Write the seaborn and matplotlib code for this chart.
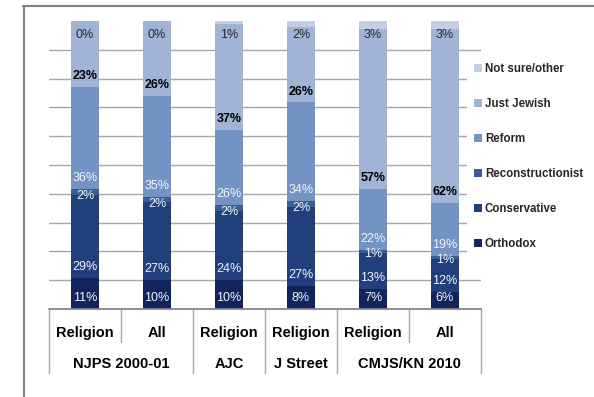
import numpy as np
import pandas as pd
import seaborn as sns
import matplotlib.pyplot as plt
from matplotlib.patches import Patch
from matplotlib.lines import Line2D

# ---- data ----
surveys = ["NJPS 2000-01", "NJPS 2000-01", "AJC", "J Street", "CMJS/KN 2010", "CMJS/KN 2010"]
subsets = ["Religion", "All", "Religion", "Religion", "Religion", "All"]
groups = ["NJPS 2000-01", "AJC", "J Street", "CMJS/KN 2010"]
denoms = ["Orthodox", "Conservative", "Reconstructionist", "Reform", "Just Jewish", "Not sure/other"]
orthodox = [11, 10, 10, 8, 7, 6]
conservative = [29, 27, 24, 27, 13, 12]
reconstructionist = [2, 2, 2, 2, 1, 1]
reform = [36, 35, 26, 34, 22, 19]
just_jewish = [23, 26, 37, 26, 57, 62]
not_sure = [0, 0, 1, 2, 3, 3]
colors = ["#12245e", "#203f7c", "#375e95", "#7393c5", "#a1b4d6", "#c3cde4"]

series = [orthodox, conservative, reconstructionist, reform, just_jewish, not_sure]
ids = [f"{s}|{b}|{i}" for i, (s, b) in enumerate(zip(surveys, subsets))]

vals = np.array(series, dtype=float)           # (6 series, 6 bars)
shares = vals / vals.sum(axis=0, keepdims=True)  # 100% stacked
cum = np.cumsum(shares, axis=0)

rows = []
for k, d in enumerate(denoms):
    for i, bid in enumerate(ids):
        rows.append(dict(bar=bid, denom=d, value=series[k][i], top=cum[k, i],
                         base=cum[k, i] - shares[k, i]))
df = pd.DataFrame(rows)

sns.set_theme(style="white")
plt.rcParams["font.family"] = ["Liberation Sans", "DejaVu Sans"]

W, H = 594, 397
fig = plt.figure(figsize=(W / 100, H / 100), dpi=100)
ax = fig.add_axes([49 / W, (H - 309) / H, (481 - 49) / W, 288 / H])

for k in reversed(range(len(denoms))):
    sub = df[df["denom"] == denoms[k]]
    sns.barplot(data=sub, x="bar", y="top", order=ids, color=colors[k], width=0.4,
                saturation=1, errorbar=None, linewidth=0, ax=ax, zorder=3)

ax.set_xlim(-0.5, 5.5)
ax.set_ylim(0, 1)
ax.set_yticks(np.arange(1, 10) / 10)
ax.set_yticklabels([])
ax.set_xticks([])
ax.set_xlabel("")
ax.set_ylabel("")
ax.grid(axis="y", color="#a6a6a6", lw=1)
ax.set_axisbelow(True)
for s in ax.spines.values():
    s.set_visible(False)
ax.tick_params(left=False, bottom=False)
ax.axhline(0, color="#868686", lw=1.3, clip_on=False, zorder=4)

# ---- data labels ----
for _, r in df.iterrows():
    i = ids.index(r["bar"])
    k = denoms.index(r["denom"])
    txt = f"{r['value']}%"
    if k == 5:
        y = 0.951
        ax.text(i, y, txt, ha="center", va="center", fontsize=9, color="#262626", zorder=5)
    elif k == 4:
        ax.text(i, r["base"] + 0.038, txt, ha="center", va="center", fontsize=9,
                color="black", fontweight="bold", zorder=5)
    elif k == 2:
        ax.text(i, r["base"] - 0.004, txt, ha="center", va="center", fontsize=9,
                color="#f4f6fa", zorder=5)
    else:
        ax.text(i, r["base"] + 0.038, txt, ha="center", va="center", fontsize=9,
                color="#f4f6fa", zorder=5)

# ---- two-level category axis ----
tr = ax.get_xaxis_transform()
for x in [-0.5, 1.5, 2.5, 3.5, 5.5]:
    ax.plot([x, x], [0, -0.222], transform=tr, color="#a6a6a6", lw=1, clip_on=False)
for x in [0.5, 4.5]:
    ax.plot([x, x], [0, -0.1146], transform=tr, color="#a6a6a6", lw=1, clip_on=False)
for i, sb in enumerate(subsets):
    ax.text(i, -0.083, sb, transform=tr, ha="center", va="center", fontsize=10.5,
            fontweight="bold", color="black")
group_pos = [0.5, 2, 3, 4.5]
for g, gx in zip(groups, group_pos):
    ax.text(gx, -0.191, g, transform=tr, ha="center", va="center", fontsize=10.5,
            fontweight="bold", color="black")

# ---- legend ----
handles = [Patch(facecolor=colors[k], edgecolor="none") for k in reversed(range(len(denoms)))]
labels = list(reversed(denoms))
fig.legend(handles, labels, loc="upper left", bbox_to_anchor=(467 / W, (H - 56) / H),
           frameon=True, facecolor="white", edgecolor="none", framealpha=1,
           borderpad=0.6, handlelength=0.7, handleheight=0.7, handletextpad=0.25,
           labelspacing=2.0, prop=dict(weight="bold", size=8.3), borderaxespad=0)

# ---- outer chart frame (cropped) ----
fig.add_artist(Line2D([23 / W, 1], [1 - 6 / H, 1 - 6 / H], transform=fig.transFigure,
                      color="#7f7f7f", lw=1.5))
fig.add_artist(Line2D([24 / W, 24 / W], [0, 1 - 6 / H], transform=fig.transFigure,
                      color="#7f7f7f", lw=1.5))

fig.savefig("out.png", dpi=100, facecolor="white")
